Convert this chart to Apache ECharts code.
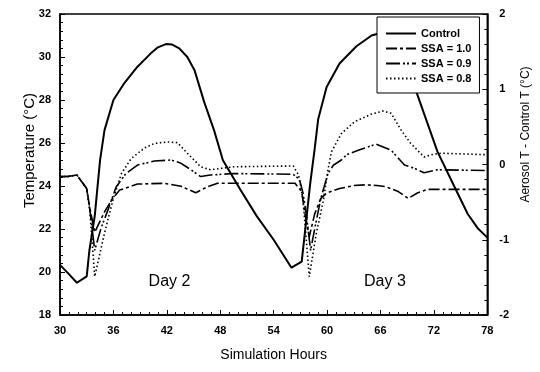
<!DOCTYPE html>
<html><head><meta charset="utf-8">
<script src="https://cdn.jsdelivr.net/npm/echarts@6/dist/echarts.min.js"></script>
<style>html,body{margin:0;padding:0;background:#fff}#c{width:540px;height:372px}</style>
</head><body><div id="c"></div>
<script>
const seriesNames = ['Control', 'SSA = 1.0', 'SSA = 0.9', 'SSA = 0.8'];

const controlHours = [30, 31, 31.9, 33.0, 33.3, 33.9, 34.5, 35.0, 36.0, 37.25, 38.7, 40.2, 41.0, 41.9, 42.6, 43.4, 44.3, 45.1, 46.2, 47.3, 48.3, 50.3, 52.1, 54.0, 56.0, 57.15, 57.5, 58.1, 58.6, 59.0, 59.95, 61.4, 63.3, 65.0, 66.0, 67.0, 68.0, 69.0, 70.1, 72.4, 74.5, 75.8, 76.9, 78];
const controlTemp = [20.33, 19.9, 19.5, 19.8, 21.0, 22.6, 25.2, 26.6, 28.0, 28.8, 29.55, 30.17, 30.45, 30.6, 30.58, 30.4, 30.0, 29.4, 27.9, 26.6, 25.2, 23.8, 22.6, 21.5, 20.2, 20.48, 21.8, 24.1, 25.7, 27.1, 28.6, 29.7, 30.5, 31.0, 31.12, 30.9, 30.3, 29.3, 28.3, 25.6, 23.8, 22.7, 22.05, 21.6];

const ssa10Hours = [30, 30.9, 31.0, 31.9, 33.0, 33.35, 33.9, 35.0, 35.8, 36.7, 38.7, 41.7, 43.6, 45.25, 46.6, 47.7, 56.4, 57.15, 57.5, 58.0, 58.6, 59.3, 59.95, 61.4, 63.0, 64.4, 65.6, 66.6, 68.0, 69.1, 70.2, 71.3, 78];
const ssa10Diff = [-0.16, -0.16, -0.14, -0.14, -0.32, -0.58, -0.9, -0.63, -0.47, -0.34, -0.26, -0.25, -0.29, -0.375, -0.295, -0.25, -0.25, -0.36, -0.65, -0.96, -0.66, -0.45, -0.38, -0.32, -0.28, -0.27, -0.28, -0.295, -0.36, -0.45, -0.375, -0.33, -0.33];

const ssa09Hours = [30, 30.9, 31.0, 31.9, 33.0, 33.35, 33.9, 34.6, 35.4, 36.3, 37.4, 38.7, 40.6, 42.5, 43.6, 44.7, 45.8, 46.9, 49.5, 56.2, 56.9, 57.3, 57.7, 58.15, 58.7, 59.3, 60.1, 60.7, 61.6, 62.2, 63.5, 65.5, 67.2, 68.7, 69.8, 70.9, 72.4, 78];
const ssa09Diff = [-0.16, -0.16, -0.14, -0.14, -0.32, -0.6, -1.14, -0.85, -0.6, -0.3, -0.12, -0.007, 0.046, 0.06, 0.016, -0.07, -0.16, -0.14, -0.12, -0.13, -0.2, -0.38, -0.69, -1.14, -0.8, -0.45, -0.12, -0.01, 0.06, 0.13, 0.19, 0.27, 0.19, -0.007, -0.05, -0.11, -0.07, -0.08];

const ssa08Hours = [30, 30.9, 31.0, 31.9, 33.0, 33.35, 33.9, 35.0, 35.95, 36.9, 38.0, 39.5, 40.6, 42.1, 43.2, 44.3, 45.8, 46.9, 49.5, 56.2, 56.8, 57.3, 58.0, 58.8, 59.6, 60.1, 60.5, 61.6, 63.1, 65.0, 66.3, 67.2, 68.3, 69.4, 70.9, 71.7, 72.8, 78];
const ssa08Diff = [-0.16, -0.16, -0.14, -0.14, -0.32, -0.62, -1.49, -0.91, -0.47, -0.12, 0.08, 0.22, 0.28, 0.30, 0.29, 0.15, -0.03, -0.07, -0.03, -0.02, -0.14, -0.47, -1.49, -0.91, -0.47, -0.07, 0.17, 0.41, 0.57, 0.67, 0.71, 0.68, 0.46, 0.28, 0.10, 0.13, 0.15, 0.13];

const dayLabels = ['Day 2', 'Day 3'];
const dayHours = [42.3, 66.5];
const dayLabelTemp = 19.55;

const FONT = 'Liberation Sans, Arial, Helvetica, sans-serif';
const zip = (a, b) => a.map((v, i) => [v, b[i]]);

const chart = echarts.init(document.getElementById('c'), null, {renderer: 'canvas'});
const axisCommon = {
  axisLine: {show: true, onZero: false, lineStyle: {color: '#000', width: 1.5}},
  axisTick: {show: true, inside: true, length: 5, lineStyle: {color: '#000', width: 1}},
  splitLine: {show: false},
  axisLabel: {color: '#000', fontFamily: FONT, fontSize: 11, fontWeight: 'bold'}
};

chart.setOption({
  animation: false,
  backgroundColor: '#fff',
  grid: {left: 60, right: 50, top: 14, bottom: 57, show: true, borderColor: '#000', borderWidth: 1.5, backgroundColor: 'transparent'},
  legend: {
    data: seriesNames,
    orient: 'vertical',
    left: 377, top: 17,
    padding: [11, 8, 9, 8],
    itemGap: 4,
    itemWidth: 30, itemHeight: 11,
    backgroundColor: '#fff',
    borderColor: '#000', borderWidth: 1,
    itemStyle: {color: 'rgba(0,0,0,0)', borderWidth: 0, opacity: 0},
    textStyle: {color: '#000', fontFamily: FONT, fontSize: 11, fontWeight: 'bold'}
  },
  xAxis: Object.assign({}, axisCommon, {
    type: 'value', min: 30, max: 78, interval: 6,
    minorTick: {show: true, splitNumber: 6, length: 3, lineStyle: {color: '#000'}},
    axisLabel: Object.assign({}, axisCommon.axisLabel, {margin: 10}),
    name: 'Simulation Hours', nameLocation: 'middle', nameGap: 33,
    nameTextStyle: {color: '#000', fontFamily: FONT, fontSize: 14}
  }),
  yAxis: [
    Object.assign({}, axisCommon, {
      type: 'value', min: 18, max: 32, interval: 2, position: 'left',
      minorTick: {show: true, splitNumber: 5, length: 3, lineStyle: {color: '#000'}},
      axisLabel: Object.assign({}, axisCommon.axisLabel, {margin: 9}),
      name: 'Temperature (°C)', nameLocation: 'middle', nameGap: 23, nameMoveOverlap: false,
      nameTextStyle: {color: '#000', fontFamily: FONT, fontSize: 15, padding: [0, 0, 0, 28]}
    }),
    Object.assign({}, axisCommon, {
      type: 'value', min: -2, max: 2, interval: 1, position: 'right',
      minorTick: {show: true, splitNumber: 5, length: 3, lineStyle: {color: '#000'}},
      axisLabel: Object.assign({}, axisCommon.axisLabel, {margin: 12}),
      name: 'Aerosol T - Control T (°C)', nameLocation: 'middle', nameGap: 29, nameRotate: 90,
      nameTextStyle: {color: '#000', fontFamily: FONT, fontSize: 12, padding: [0, 0, 0, 60]}
    })
  ],
  series: [
    {
      name: seriesNames[0], type: 'line', yAxisIndex: 0, symbol: 'none',
      data: zip(controlHours, controlTemp),
      lineStyle: {color: '#000', width: 2},
      itemStyle: {color: '#000'},
      markPoint: {
        symbol: 'rect', symbolSize: 1,
        itemStyle: {color: 'rgba(0,0,0,0)'},
        label: {show: true, position: 'inside', color: '#000', fontFamily: FONT, fontSize: 16, formatter: p => p.name},
        data: dayLabels.map((t, i) => ({name: t, coord: [dayHours[i], dayLabelTemp]}))
      }
    },
    {
      name: seriesNames[1], type: 'line', yAxisIndex: 1, symbol: 'none',
      data: zip(ssa10Hours, ssa10Diff),
      lineStyle: {color: '#000', width: 1.6, type: [11, 3, 3, 3]},
      itemStyle: {color: '#000'}
    },
    {
      name: seriesNames[2], type: 'line', yAxisIndex: 1, symbol: 'none',
      data: zip(ssa09Hours, ssa09Diff),
      lineStyle: {color: '#000', width: 1.6, type: [14, 3, 2, 2, 2, 3]},
      itemStyle: {color: '#000'}
    },
    {
      name: seriesNames[3], type: 'line', yAxisIndex: 1, symbol: 'none',
      data: zip(ssa08Hours, ssa08Diff),
      lineStyle: {color: '#000', width: 1.6, type: [1.5, 2.5]},
      itemStyle: {color: '#000'}
    }
  ]
});
</script>
</body></html>
